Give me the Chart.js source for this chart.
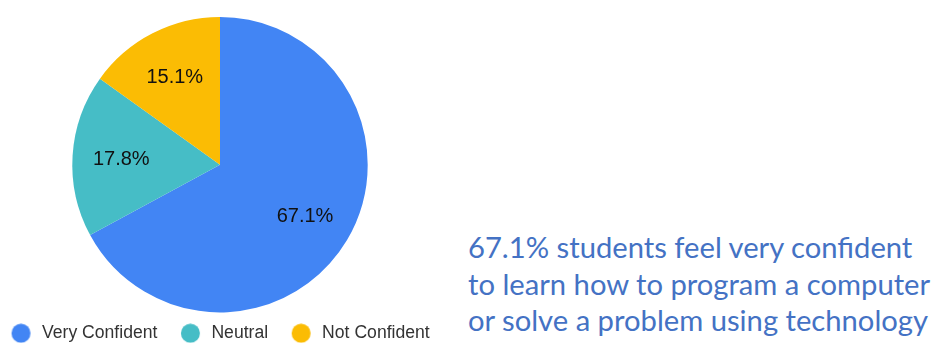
<!DOCTYPE html>
<html lang="en">
  <head>
    <meta charset="UTF-8" />
    <title>Confidence</title>
    <style>
      html,
      body {
        margin: 0;
        padding: 0;
        background: #fff;
        width: 938px;
        height: 343px;
        overflow: hidden;
        position: relative;
      }
      #pieBox {
        position: absolute;
        left: -12px;
        top: 0;
        width: 464px;
        height: 352px;
      }
      #note {
        position: absolute;
        left: 468px;
        top: 229px;
        font-family: Lato, "Open Sans", sans-serif;
        font-size: 29.2px;
        line-height: 36.5px;
        color: #4472c4;
        white-space: nowrap;
      }
    </style>
  </head>
  <body>
    <div id="pieBox"><canvas id="pieChart"></canvas></div>
    <div id="note">
      67.1% students feel very confident<br />
      to learn how to program a computer<br />
      or solve a problem using technology
    </div>

    <script src="https://cdn.jsdelivr.net/npm/chart.js@4/dist/chart.umd.min.js"></script>
    <script>
      const labels = ["Very Confident", "Neutral", "Not Confident"];
      const percents = [67.1, 17.8, 15.1];
      const colors = ["#4285f4", "#46bdc6", "#fbbc04"];

      // round legend dots, drawn a little right of the box centre
      function makeDot(color) {
        let c = document.createElement("canvas");
        c.width = 30;
        c.height = 20;
        let g = c.getContext("2d");
        g.fillStyle = color;
        g.beginPath();
        g.arc(19.4, 10, 9.5, 0, Math.PI * 2);
        g.fill();
        return c;
      }
      const dots = colors.map(makeDot);

      // percentage text inside each slice
      const sliceLabels = {
        id: "sliceLabels",
        afterDatasetsDraw(chart) {
          const ctx = chart.ctx;
          const meta = chart.getDatasetMeta(0);
          ctx.save();
          ctx.font = "20px 'Liberation Sans', Arial, sans-serif";
          ctx.fillStyle = "#111";
          ctx.textAlign = "center";
          ctx.textBaseline = "middle";
          meta.data.forEach((arc, i) => {
            const p = arc.getProps(["x", "y", "startAngle", "endAngle", "outerRadius"]);
            const mid = (p.startAngle + p.endAngle) / 2;
            const r = p.outerRadius * 0.67;
            ctx.fillText(
              percents[i].toFixed(1) + "%",
              p.x + Math.cos(mid) * r,
              p.y + Math.sin(mid) * r + 1
            );
          });
          ctx.restore();
        },
      };

      new Chart("pieChart", {
        type: "pie",
        data: {
          labels: labels,
          datasets: [
            {
              data: percents,
              backgroundColor: colors,
              borderWidth: 0,
            },
          ],
        },
        options: {
          responsive: true,
          maintainAspectRatio: false,
          animation: false,
          layout: { padding: { top: 17 } },
          plugins: {
            tooltip: { enabled: false },
            legend: {
              position: "bottom",
              align: "start",
              labels: {
                usePointStyle: true,
                pointStyleWidth: 33.2,
                padding: 12,
                color: "#333",
                font: { family: "'Liberation Sans', Arial, sans-serif", size: 17.6 },
                generateLabels(chart) {
                  const items =
                    Chart.overrides.pie.plugins.legend.labels.generateLabels(chart);
                  items.forEach((it, i) => {
                    it.pointStyle = dots[i];
                    it.lineWidth = 0;
                  });
                  return items;
                },
              },
            },
          },
        },
        plugins: [sliceLabels],
      });
    </script>
  </body>
</html>
